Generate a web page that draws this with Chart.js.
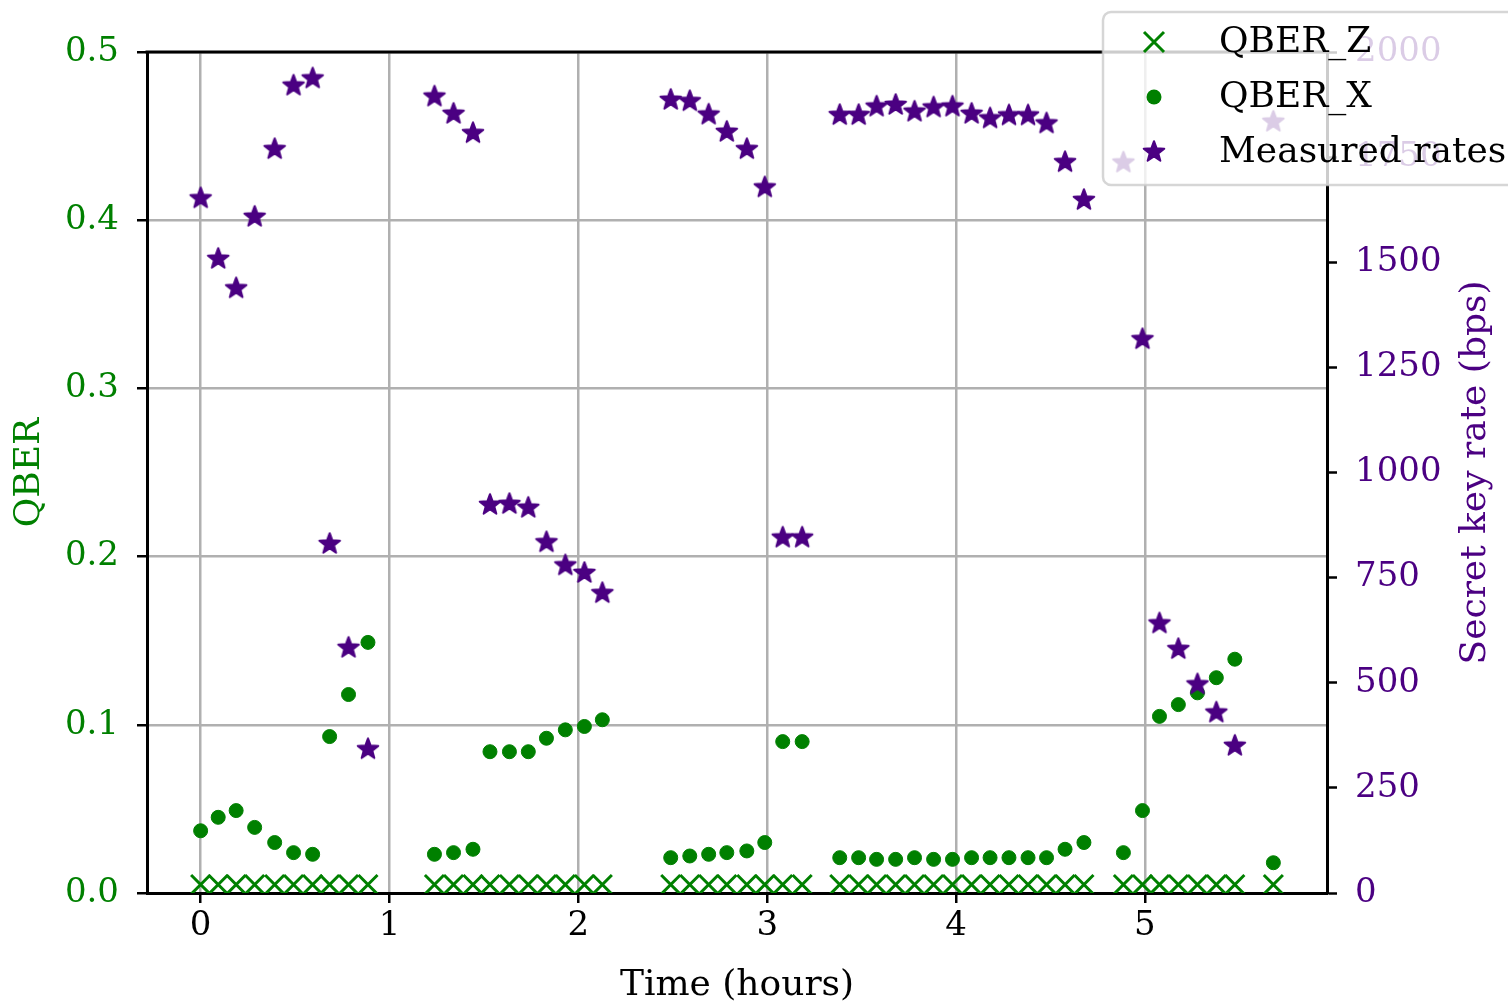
<!DOCTYPE html>
<html>
<head>
<meta charset="utf-8">
<title>QBER y tasa de clave secreta</title>
<script src="https://cdn.jsdelivr.net/npm/chart.js"></script>
<style>
  html, body { margin: 0; padding: 0; background: #fff; }
  canvas { display: block; }
</style>
</head>
<body>
<canvas id="grafica" width="1508" height="1004"></canvas>
<script>
// tiempo de cada medida (horas)
const timeHours = [
  0.000, 0.093, 0.188, 0.286, 0.392, 0.492, 0.593, 0.683, 0.783, 0.886,
  1.238, 1.339, 1.442, 1.532, 1.635, 1.735, 1.831, 1.931, 2.032, 2.127,
  2.489, 2.590, 2.690, 2.786, 2.892, 2.987, 3.082, 3.185,
  3.384, 3.484, 3.579, 3.680, 3.780, 3.881, 3.981, 4.082, 4.180, 4.280, 4.381, 4.479, 4.577, 4.677,
  4.886, 4.987, 5.077, 5.177, 5.278, 5.378, 5.476, 5.680
];

const qberZ = [
  0.005, 0.005, 0.005, 0.005, 0.005, 0.005, 0.005, 0.005, 0.005, 0.005,
  0.005, 0.005, 0.005, 0.005, 0.005, 0.005, 0.005, 0.005, 0.005, 0.005,
  0.005, 0.005, 0.005, 0.005, 0.005, 0.005, 0.005, 0.005,
  0.005, 0.005, 0.005, 0.005, 0.005, 0.005, 0.005, 0.005, 0.005, 0.005, 0.005, 0.005, 0.005, 0.005,
  0.005, 0.005, 0.005, 0.005, 0.005, 0.005, 0.005, 0.005
];

const qberX = [
  0.037, 0.045, 0.049, 0.039, 0.030, 0.024, 0.023, 0.093, 0.118, 0.149,
  0.023, 0.024, 0.026, 0.084, 0.084, 0.084, 0.092, 0.097, 0.099, 0.103,
  0.021, 0.022, 0.023, 0.024, 0.025, 0.030, 0.090, 0.090,
  0.021, 0.021, 0.020, 0.020, 0.021, 0.020, 0.020, 0.021, 0.021, 0.021, 0.021, 0.021, 0.026, 0.030,
  0.024, 0.049, 0.105, 0.112, 0.119, 0.128, 0.139, 0.018
];

// tasa medida (bps)
const keyRate = [
  1652, 1508, 1438, 1608, 1769, 1920, 1937, 830, 583, 342,
  1894, 1853, 1807, 923, 925, 916, 834, 779, 761, 713,
  1886, 1883, 1851, 1810, 1769, 1678, 845, 845,
  1850, 1850, 1870, 1874, 1858, 1868, 1870, 1853, 1842, 1849, 1849, 1830, 1738, 1648,
  1737, 1317, 641, 580, 496, 429, 350, 1834
];

const timeTicks = [0, 1, 2, 3, 4, 5];
const qberTicks = [0, 0.1, 0.2, 0.3, 0.4, 0.5];
const rateTicks = [0, 250, 500, 750, 1000, 1250, 1500, 1750, 2000];

const green = '#008000';
const indigo = '#4B0082';
const serif = 'DejaVu Serif';

Chart.defaults.font.family = serif;

function hacerEstrella(color, r) {
  const c = document.createElement('canvas');
  const size = Math.ceil(r * 2 + 6);
  c.width = size;
  c.height = size;
  const g = c.getContext('2d');
  const cx = size / 2, cy = size / 2;
  g.beginPath();
  for (let i = 0; i < 10; i++) {
    const rad = i % 2 === 0 ? r : r * 0.42;
    const a = -Math.PI / 2 + i * Math.PI / 5;
    const px = cx + rad * Math.cos(a);
    const py = cy + rad * Math.sin(a);
    if (i === 0) g.moveTo(px, py); else g.lineTo(px, py);
  }
  g.closePath();
  g.fillStyle = color;
  g.strokeStyle = color;
  g.lineWidth = 2;
  g.lineJoin = 'round';
  g.fill();
  g.stroke();
  return c;
}

const estrella = hacerEstrella(indigo, 10.8);

const puntos = ys => timeHours.map((t, i) => ({x: t, y: ys[i]}));
const fijarTicks = lista => s => { s.ticks = lista.map(v => ({value: v})); };

const gridOpts = {color: '#b0b0b0', lineWidth: 2.5, tickColor: '#000', tickWidth: 2.5, tickLength: 10};
const borderOpts = {color: '#000', width: 3};

// marco superior, etiqueta derecha y leyenda
const extras = {
  id: 'extras',
  afterDraw(chart) {
    const ctx = chart.ctx;
    const a = chart.chartArea;

    ctx.save();
    ctx.strokeStyle = '#000';
    ctx.lineWidth = 3;
    ctx.beginPath();
    ctx.moveTo(a.left - 1.5, a.top);
    ctx.lineTo(a.right + 1.5, a.top);
    ctx.stroke();
    ctx.restore();

    ctx.save();
    ctx.translate(1476, (a.top + a.bottom) / 2);
    ctx.rotate(-Math.PI / 2);
    ctx.font = '36px "' + serif + '"';
    ctx.fillStyle = indigo;
    ctx.textAlign = 'center';
    ctx.textBaseline = 'middle';
    ctx.fillText('Secret key rate (bps)', 0, 0);
    ctx.restore();

    ctx.save();
    ctx.beginPath();
    ctx.roundRect(1103, 12, 430, 173, 8);
    ctx.fillStyle = 'rgba(255,255,255,0.8)';
    ctx.fill();
    ctx.strokeStyle = 'rgba(204,204,204,0.8)';
    ctx.lineWidth = 2.5;
    ctx.stroke();

    const mx = 1154, tx = 1219;
    // QBER_Z
    ctx.strokeStyle = green;
    ctx.lineWidth = 3;
    ctx.beginPath();
    ctx.moveTo(mx - 10, 42 - 10); ctx.lineTo(mx + 10, 42 + 10);
    ctx.moveTo(mx + 10, 42 - 10); ctx.lineTo(mx - 10, 42 + 10);
    ctx.stroke();
    // QBER_X
    ctx.fillStyle = green;
    ctx.beginPath();
    ctx.arc(mx, 97, 7.5, 0, Math.PI * 2);
    ctx.fill();
    // Measured rates
    ctx.drawImage(estrella, mx - estrella.width / 2, 152 - estrella.height / 2);

    ctx.fillStyle = '#000';
    ctx.font = '36px "' + serif + '"';
    ctx.textAlign = 'left';
    ctx.textBaseline = 'middle';
    ctx.fillText('QBER_Z', tx, 43);
    ctx.fillText('QBER_X', tx, 98);
    ctx.fillText('Measured rates', tx, 153);
    ctx.restore();
  }
};

new Chart(document.getElementById('grafica'), {
  type: 'scatter',
  data: {
    datasets: [
      {
        label: 'Measured rates',
        data: puntos(keyRate),
        yAxisID: 'y2',
        pointStyle: estrella,
        order: 0
      },
      {
        label: 'QBER_X',
        data: puntos(qberX),
        yAxisID: 'y',
        pointStyle: 'circle',
        pointRadius: 7,
        backgroundColor: green,
        borderColor: green,
        borderWidth: 1,
        order: 1
      },
      {
        label: 'QBER_Z',
        data: puntos(qberZ),
        yAxisID: 'y',
        pointStyle: 'crossRot',
        pointRadius: 13.5,
        borderColor: green,
        borderWidth: 3,
        order: 2
      }
    ]
  },
  options: {
    responsive: false,
    animation: false,
    devicePixelRatio: 1,
    layout: {padding: {top: 52, left: 0, right: 0, bottom: 0}, autoPadding: false},
    plugins: {legend: {display: false}, tooltip: {enabled: false}},
    scales: {
      x: {
        type: 'linear',
        min: -0.284,
        max: 5.964,
        afterBuildTicks: fijarTicks(timeTicks),
        afterFit: s => { s.height = 111; },
        grid: gridOpts,
        border: borderOpts,
        ticks: {color: '#000', font: {size: 34}, padding: 3, maxRotation: 0, callback: v => String(v)},
        title: {display: true, text: 'Time (hours)', color: '#000', font: {size: 36, lineHeight: 1.0}, padding: {top: 0, bottom: 0}}
      },
      y: {
        position: 'left',
        min: 0,
        max: 0.5,
        afterBuildTicks: fijarTicks(qberTicks),
        afterFit: s => { s.width = 147; },
        grid: gridOpts,
        border: borderOpts,
        ticks: {color: green, font: {size: 34}, padding: 18, callback: v => v.toFixed(1)},
        title: {display: true, text: 'QBER', color: green, font: {size: 36}, padding: {top: 8, bottom: 0}}
      },
      y2: {
        position: 'right',
        min: 0,
        max: 2000,
        afterBuildTicks: fijarTicks(rateTicks),
        afterFit: s => { s.width = 181; },
        grid: {drawOnChartArea: false, tickColor: '#000', tickWidth: 2.5, tickLength: 10},
        border: borderOpts,
        ticks: {color: indigo, font: {size: 34}, padding: 18, callback: v => String(v)}
      }
    }
  },
  plugins: [extras]
});
</script>
</body>
</html>
